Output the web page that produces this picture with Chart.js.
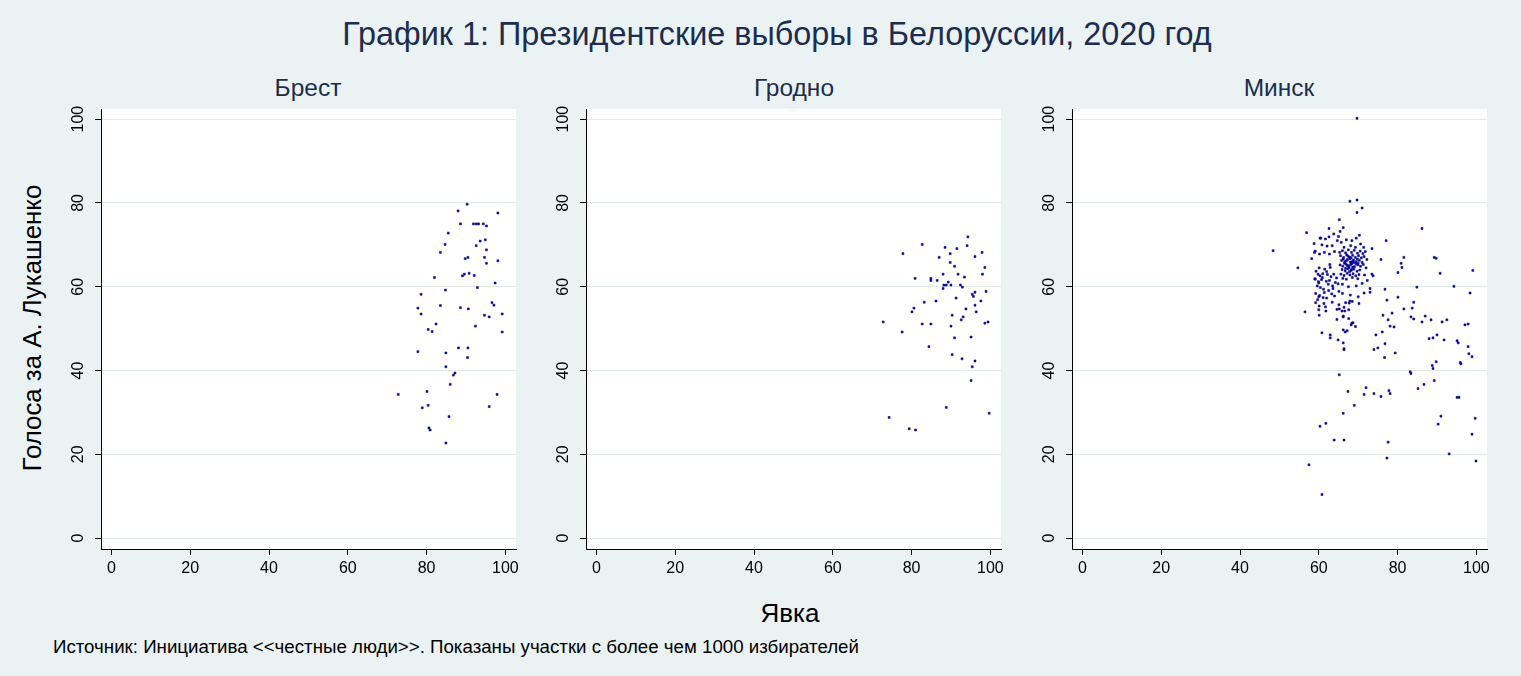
<!DOCTYPE html>
<html>
<head>
<meta charset="utf-8">
<script src="https://cdn.jsdelivr.net/npm/chart.js@4.4.1/dist/chart.umd.min.js"></script>
<style>
  html, body { margin:0; padding:0; }
  body { width:1521px; height:676px; background:#eaf2f3; position:relative; overflow:hidden;
         font-family:"Liberation Sans", Arial, sans-serif; }
  .txt { position:absolute; white-space:nowrap; line-height:1; }
  canvas { position:absolute; }
</style>
</head>
<body>
<div class="txt" id="title" style="left:777px; top:18px; transform:translateX(-50%); font-size:32.4px; color:#1c2d4f;">График 1: Президентские выборы в Белоруссии, 2020 год</div>
<div class="txt" style="left:308px; top:76px; transform:translateX(-50%); font-size:24.5px; color:#1c2d4f;">Брест</div>
<div class="txt" style="left:794px; top:76px; transform:translateX(-50%); font-size:24.5px; color:#1c2d4f;">Гродно</div>
<div class="txt" style="left:1279px; top:76px; transform:translateX(-50%); font-size:24.5px; color:#1c2d4f;">Минск</div>
<div class="txt" style="left:33px; top:328px; transform:translate(-50%,-50%) rotate(-90deg); font-size:25.8px; color:#000;">Голоса за А. Лукашенко</div>
<div class="txt" style="left:790px; top:600px; transform:translateX(-50%); font-size:26px; color:#000;">Явка</div>
<div class="txt" style="left:53px; top:638px; font-size:18.7px; color:#000;">Источник: Инициатива &lt;&lt;честные люди&gt;&gt;. Показаны участки с более чем 1000 избирателей</div>

<canvas id="c0" width="485" height="493" style="left:41px; top:96px;"></canvas>
<canvas id="c1" width="485" height="493" style="left:526px; top:96px;"></canvas>
<canvas id="c2" width="485" height="493" style="left:1012px; top:96px;"></canvas>

<script>
// ---- Data (turnout %, votes for Lukashenko %) ----
const panelNames = ['Брест', 'Гродно', 'Минск'];
const xTickValues = [0, 20, 40, 60, 80, 100];
const yTickValues = [0, 20, 40, 60, 80, 100];
const xTickLabels = ['0', '20', '40', '60', '80', '100'];
const yTickLabels = ['0', '20', '40', '60', '80', '100'];

const brestX = [90.3,88.0,98.1,88.6,91.9,92.6,93.2,94.4,95.2,85.5,93.6,94.9,84.7,92.6,95.2,83.5,89.8,90.5,94.7,95.2,98.1,89.1,89.6,90.8,92.1,82.0,97.4,92.9,84.8,78.6,96.6,97.1,77.8,83.5,88.6,90.6,78.6,94.7,95.9,99.2,82.4,92.4,80.4,81.4,99.2,77.8,84.9,88.1,90.5,90.4,84.9,87.2,86.8,86.0,72.8,80.1,97.9,78.9,80.4,95.9,85.7,80.6,80.9,84.9];
const brestY = [79.7,78.1,77.6,75.0,75.0,75.0,75.0,75.0,74.5,72.8,70.9,71.2,70.1,69.8,68.8,68.2,66.7,67.0,67.0,65.6,66.2,62.6,63.0,63.2,62.7,62.2,60.9,59.8,59.2,58.2,56.2,55.6,54.9,55.5,55.0,54.7,53.5,53.2,52.8,53.5,51.1,50.6,49.8,49.3,49.2,44.5,44.2,45.4,45.4,43.1,40.9,39.4,38.9,36.7,34.3,35.0,34.3,31.1,31.7,31.4,29.0,26.3,25.8,22.7];

const grodnoX = [94.3,82.7,88.5,91.5,94.1,77.8,89.8,87.0,96.1,97.9,89.8,90.9,98.6,88.0,91.8,98.0,93.4,80.9,84.9,84.9,86.5,89.3,88.2,88.8,90.0,88.0,92.4,92.9,95.4,96.1,98.9,95.7,91.3,83.2,86.2,97.6,96.1,80.6,80.1,93.8,96.4,90.3,93.1,92.6,72.8,82.7,84.9,90.0,98.6,99.4,77.6,90.9,95.1,84.4,90.3,92.8,96.1,95.4,95.1,88.8,99.7,74.3,79.4,81.0];
const grodnoY = [71.9,70.1,69.4,69.1,69.8,67.9,67.9,67.0,67.2,68.2,65.8,64.9,64.6,63.0,63.0,63.0,62.3,62.0,62.0,61.5,61.5,61.1,60.4,60.4,60.4,59.6,60.4,59.9,58.2,58.7,58.9,57.7,57.3,56.3,56.6,56.6,55.6,54.9,54.0,54.7,54.0,53.2,52.8,52.1,51.6,51.1,51.1,50.6,51.3,51.6,49.2,47.8,48.0,45.7,43.8,42.8,42.3,40.9,37.6,31.2,29.8,28.8,26.1,25.8];

const minskX = [
 69.7,67.9,69.7,71.0,69.7,65.2,62.6,66.2,65.4,56.9,48.4,86.2,77.1,73.5,75.8,81.6,89.3,89.8,80.9,81.1,
 80.1,90.8,99.1,73.5,73.8,84.9,94.3,98.4,76.8,73.0,73.0,80.1,77.3,84.1,81.6,83.7,78.6,76.3,83.4,84.1,
 87.0,88.5,86.2,91.3,92.5,77.6,97.1,97.9,78.1,79.1,76.1,74.5,90.0,89.0,88.0,91.8,95.1,95.4,76.8,75.0,
 74.0,97.9,79.4,76.7,98.1,98.9,89.8,95.9,96.1,88.8,89.0,83.2,83.4,89.3,86.7,85.2,72.0,71.5,74.0,75.8,
 77.8,78.1,95.1,95.6,69.0,91.0,90.3,99.7,98.9,77.6,77.3,93.1,99.9,54.7,56.5,60.1,60.1,61.8,65.2,66.4,
 66.6,66.2,60.8,62.9,62.9,64.9,66.2,66.4,66.4,66.2,66.7,67.2,68.2,68.7,67.7,67.9,65.2,67.4,66.2,60.3,
 61.8,63.9,66.4,57.5,60.8,60.3,59.1,58.2,59.8,59.1,
 60.5,61.7,62.6,64.7,65.7,63.4,62.1,60.8,66.4,68.1,69.3,70.6,71.4,58.9,60.2,61.4,62.7,64.0,65.3,
 66.0,66.8,67.5,68.3,69.0,69.8,70.5,71.2,65.5,66.3,67.1,67.8,68.6,69.3,70.1,70.8,71.5,
 65.8,66.6,67.3,68.0,68.8,69.5,70.3,71.0,65.4,66.1,66.9,67.6,68.4,69.1,69.9,70.6,71.3,
 65.9,66.7,67.4,68.2,68.9,69.7,70.4,65.6,66.4,67.2,67.9,68.7,69.4,70.2,66.1,67.0,68.5,69.9,
 67.0,67.9,68.5,66.5,67.2,68.1,68.9,67.7,66.8,68.6,69.4,67.4,68.2,66.2,69.8,70.0,67.8,68.3,
 59.3,59.0,59.6,59.2,60.1,60.3,59.9,60.4,60.2,60.0,61.0,60.7,61.2,60.9,61.5,61.9,61.4,
 62.2,62.4,62.0,62.7,62.5,63.1,63.5,62.9,63.3,63.8,64.2,63.6,64.5,64.9,65.1,59.7,61.1,62.8,
 59.2,61.3,63.4,65.1,66.8,68.5,70.2,60.0,62.0,64.0,66.0,68.0,70.0,71.5,
 71.8,72.2,72.0,71.6,72.3,71.0,69.5,67.5,66.0,63.8,65.0,67.0,68.4,69.5,70.3,58.8,
 60.0,61.7,64.6,65.9,67.6,64.6,66.2,67.6,68.4,69.3];
const minskY = [
 100.2,80.4,80.7,78.8,77.7,76.0,73.9,74.1,73.2,72.9,68.6,73.9,71.0,69.1,66.5,67.0,67.0,66.8,65.6,64.6,
 63.4,63.2,63.9,63.0,62.6,59.9,60.1,58.5,59.4,59.6,58.7,57.5,56.8,56.3,54.7,54.9,53.7,53.2,52.8,52.3,
 53.0,52.1,51.6,51.6,52.1,52.1,50.9,51.1,50.6,50.4,49.2,48.5,48.5,47.8,47.6,47.3,47.1,46.6,46.4,45.4,
 45.0,45.7,44.2,43.1,44.0,43.3,42.1,41.9,41.6,41.2,40.5,39.7,39.3,37.6,36.7,35.7,35.9,34.3,34.5,33.8,
 35.2,34.5,33.6,33.6,31.7,29.1,27.2,28.6,24.8,22.9,19.1,20.1,18.4,64.5,54.0,53.2,55.4,54.2,54.7,55.1,
 54.2,53.0,49.0,48.5,47.8,47.3,46.6,45.2,45.0,49.7,49.2,49.5,50.9,51.4,56.1,56.6,39.0,35.0,29.8,26.7,
 27.4,23.4,23.4,17.5,10.4,71.6,68.5,66.7,63.0,61.8,
 71.6,71.4,71.9,71.0,70.6,69.8,69.7,70.0,69.4,69.8,69.4,70.2,69.4,68.2,67.8,68.2,67.8,68.4,68.2,
 68.6,68.1,68.8,68.2,68.7,68.0,68.5,67.9,67.4,67.0,67.6,67.1,67.5,67.0,67.4,66.9,67.2,
 66.3,66.0,66.5,65.9,66.4,66.0,66.3,65.8,65.2,64.9,65.4,65.0,65.5,64.8,65.2,64.9,65.3,
 64.1,63.8,64.3,63.9,64.2,63.7,64.0,63.0,62.7,63.2,62.8,63.1,62.6,62.9,62.0,61.8,62.2,61.9,
 66.2,66.7,66.0,65.6,65.1,65.3,65.8,64.6,64.4,64.7,65.5,67.3,66.9,66.6,66.6,65.6,63.6,64.1,
 63.7,61.9,60.2,58.4,64.5,62.6,61.2,59.8,57.9,60.9,63.1,61.7,59.4,62.2,64.2,61.3,58.6,
 62.9,60.6,63.6,61.5,59.1,62.4,60.2,64.6,58.3,63.0,61.0,59.6,62.1,60.7,58.9,56.9,57.4,65.3,
 56.2,56.0,56.3,55.7,56.2,56.5,56.0,57.6,57.3,57.8,58.4,58.0,57.6,58.5,
 68.4,66.5,64.5,62.8,61.5,60.8,60.2,60.0,60.6,72.6,72.0,71.2,71.0,71.6,72.3,70.3,
 54.5,55.2,54.6,54.2,54.5,52.2,52.8,52.4,51.3,50.5];

const panelX = [brestX, grodnoX, minskX];
const panelY = [brestY, grodnoY, minskY];

const plotBg = {
  id: 'plotBg',
  beforeDraw(chart) {
    const {ctx, chartArea: a} = chart;
    ctx.save();
    ctx.fillStyle = '#ffffff';
    ctx.fillRect(a.left, a.top, a.right - a.left, a.bottom - a.top);
    ctx.restore();
  }
};

for (let i = 0; i < 3; i++) {
  const pts = panelX[i].map((x, k) => ({x: x, y: panelY[i][k]}));
  new Chart(document.getElementById('c' + i), {
    type: 'scatter',
    data: { datasets: [{
      label: panelNames[i],
      data: pts,
      pointStyle: 'rect',
      pointRadius: 1.4,
      backgroundColor: '#0000e0',
      borderColor: '#000068',
      borderWidth: 0.5
    }]},
    options: {
      responsive: false,
      animation: false,
      devicePixelRatio: 1,
      layout: { padding: { left: 0, right: 10, top: 10, bottom: 0 } },
      plugins: { legend: { display: false }, tooltip: { enabled: false } },
      scales: {
        x: {
          type: 'linear', min: -2.65, max: 102.7,
          afterBuildTicks: s => { s.ticks = xTickValues.map(v => ({value: v})); },
          afterFit: s => { s.height = 40; },
          ticks: { callback: (v) => xTickLabels[xTickValues.indexOf(v)], color: '#000',
                   font: { family: 'Liberation Sans', size: 16 }, padding: 4, maxRotation: 0, minRotation: 0 },
          grid: { drawOnChartArea: false, drawTicks: true, tickLength: 6, tickColor: '#000', tickWidth: 1 },
          border: { display: true, color: '#000', width: 1 }
        },
        y: {
          type: 'linear', min: -2.6, max: 102.4,
          afterBuildTicks: s => { s.ticks = yTickValues.map(v => ({value: v})); },
          afterFit: s => { s.width = 60; },
          ticks: { callback: (v) => yTickLabels[yTickValues.indexOf(v)], color: '#000',
                   font: { family: 'Liberation Sans', size: 16 }, padding: 3.5,
                   minRotation: 90, maxRotation: 90, crossAlign: 'center' },
          grid: { color: '#e2eaeb', lineWidth: 1, drawTicks: true, tickLength: 6, tickColor: '#000', tickWidth: 1 },
          border: { display: true, color: '#000', width: 1 }
        }
      }
    },
    plugins: [plotBg]
  });
}
</script>
</body>
</html>
